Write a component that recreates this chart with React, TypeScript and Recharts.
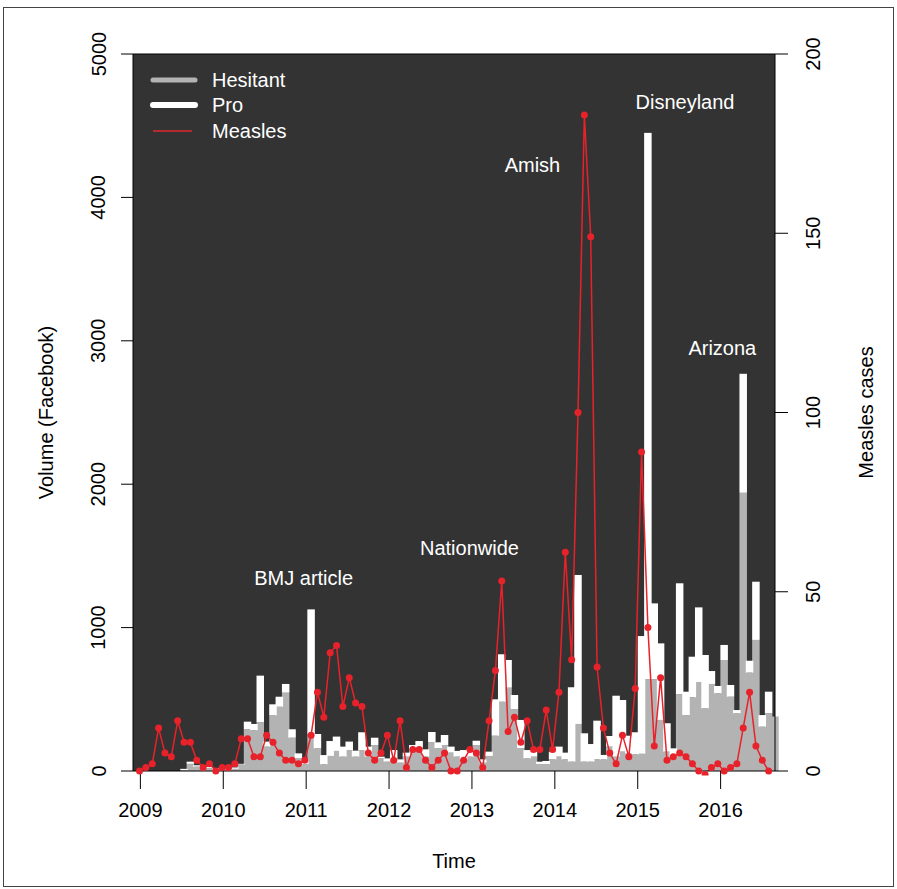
import React from "react";
import {
  ComposedChart,
  Bar,
  Line,
  XAxis,
  YAxis,
  CartesianGrid,
  ReferenceDot,
  ReferenceLine,
} from "recharts";

const FONT = '"Liberation Sans", Arial, Helvetica, sans-serif';
const BG = "#333333";
const GREY = "#b3b3b3";
const RED = "#e8222a";

// 4-week reporting periods, first one starting at the very beginning of 2009
const FIRST_PERIOD = 2008.99;
const PERIOD = 28 / 365.25;

const yearTicks = [2009, 2010, 2011, 2012, 2013, 2014, 2015, 2016];
const volumeTicks = [0, 1000, 2000, 3000, 4000, 5000];
const caseTicks = [0, 50, 100, 150, 200];

// measles cases per period
const measles = [
  0, 1, 2, 12, 5, 4, 14, 8, 8, 3,
  1, 2, 0, 1, 1, 2, 9, 9, 4, 4,
  10, 8, 5, 3, 3, 2, 3, 10, 22, 15,
  33, 35, 18, 26, 19, 18, 5, 3, 5, 10,
  3, 14, 1, 6, 6, 3, 1, 3, 5, 0,
  0, 3, 6, 5, 1, 14, 28, 53, 11, 15,
  8, 14, 6, 6, 17, 6, 22, 61, 31, 100,
  183, 149, 29, 12, 5, 2, 10, 4, 23, 89,
  40, 7, 26, 3, 4, 5, 4, 2, 0, -1,
  1, 2, 0, 1, 2, 12, 22, 7, 3, 0,
];

// facebook posts per period
const hesitant = [
  0, 0, 0, 0, 0, 0, 0, 5, 50, 30,
  20, 20, 10, 10, 10, 15, 45, 291, 284, 340,
  170, 388, 448, 546, 232, 88, 49, 258, 158, 47,
  105, 140, 100, 146, 100, 146, 100, 180, 88, 65,
  81, 58, 100, 151, 163, 100, 202, 160, 181, 128,
  100, 81, 100, 179, 58, 105, 246, 483, 581, 432,
  160, 88, 100, 49, 49, 81, 100, 81, 65, 328,
  65, 65, 81, 81, 170, 100, 135, 123, 116, 120,
  640, 640, 356, 135, 100, 535, 390, 514, 618, 437,
  607, 542, 774, 518, 402, 1940, 686, 914, 309, 402,
  380,
];

const pro = [
  0, 0, 0, 0, 0, 0, 0, 10, 15, 10,
  5, 10, 10, 5, 10, 10, 5, 53, 44, 325,
  35, 77, 70, 61, 59, 35, 32, 869, 100, 64,
  104, 100, 70, 59, 42, 124, 70, 52, 12, 23,
  65, 23, 28, 30, 46, 51, 70, 40, 70, 42,
  40, 65, 51, 32, 23, 30, 254, 331, 193, 98,
  196, 58, 35, 16, 21, 54, 70, 47, 519, 1039,
  198, 123, 270, 31, 74, 425, 360, 123, 154, 821,
  3810, 529, 534, 198, 58, 774, 163, 283, 523, 372,
  90, 51, 105, 82, 23, 830, 83, 406, 81, 151,
  0,
];

const annotations = [
  { text: "BMJ article", year: 2010.97, volume: 1346 },
  { text: "Nationwide", year: 2012.97, volume: 1555 },
  { text: "Amish", year: 2013.73, volume: 4226 },
  { text: "Disneyland", year: 2015.57, volume: 4666 },
  { text: "Arizona", year: 2016.02, volume: 2950 },
];

const data = hesitant.map((h, i) => ({
  t: FIRST_PERIOD + i * PERIOD,
  hesitant: h,
  pro: pro[i],
  measles: i < measles.length ? measles[i] : null,
}));

const WideBar = (props: any) => {
  const { x, y, width, height, fill } = props;
  if (!height || height <= 0) return <g />;
  return <rect x={x - 0.6} y={y} width={width + 1.2} height={height} fill={fill} />;
};

const YearTick = ({ x, y, payload }: any) => (
  <text x={x} y={y + 26} textAnchor="middle" fontSize={20} fill="#000" fontFamily={FONT}>
    {payload.value}
  </text>
);

const VolumeTick = ({ x, y, payload }: any) => {
  const bx = x - 13.5;
  return (
    <text
      x={bx}
      y={y}
      transform={`rotate(-90 ${bx} ${y})`}
      textAnchor="middle"
      fontSize={20}
      fill="#000"
      fontFamily={FONT}
    >
      {payload.value}
    </text>
  );
};

const CasesTick = ({ x, y, payload }: any) => {
  const bx = x + 30;
  return (
    <text
      x={bx}
      y={y}
      transform={`rotate(-90 ${bx} ${y})`}
      textAnchor="middle"
      fontSize={20}
      fill="#000"
      fontFamily={FONT}
    >
      {payload.value}
    </text>
  );
};

const Legend = () => (
  <svg
    width={200}
    height={100}
    style={{ position: "absolute", left: 140, top: 60 }}
    fontFamily={FONT}
  >
    <line x1={13} y1={20} x2={55} y2={20} stroke={GREY} strokeWidth={5} strokeLinecap="round" />
    <line x1={13} y1={45} x2={55} y2={45} stroke="#fff" strokeWidth={6} strokeLinecap="round" />
    <line x1={13} y1={71} x2={52} y2={71} stroke="#b52a2e" strokeWidth={1.8} />
    <text x={72} y={27} fontSize={20} fill="#fff">Hesitant</text>
    <text x={72} y={52} fontSize={20} fill="#fff">Pro</text>
    <text x={72} y={78} fontSize={20} fill="#fff">Measles</text>
  </svg>
);

export default function App() {
  return (
    <div
      style={{
        position: "absolute",
        left: 0,
        top: 0,
        width: 897,
        height: 889,
        background: "#fff",
        overflow: "hidden",
        fontFamily: FONT,
      }}
    >
      <div
        style={{
          position: "absolute",
          left: 3,
          top: 7,
          width: 891,
          height: 880,
          border: "1px solid #444",
          boxSizing: "border-box",
        }}
      />
      <ComposedChart
        width={897}
        height={889}
        data={data}
        margin={{ top: 54, right: 62, bottom: 78, left: 73 }}
        style={{ position: "absolute", left: 0, top: 0 }}
      >
        <CartesianGrid fill={BG} horizontal={false} vertical={false} />
        <XAxis
          dataKey="t"
          type="number"
          domain={[2008.911, 2016.645]}
          ticks={yearTicks}
          tick={<YearTick />}
          tickSize={18}
          height={40}
          stroke="#000"
          label={{
            content: () => (
              <text x={454} y={868} textAnchor="middle" fontSize={20} fill="#000" fontFamily={FONT}>
                Time
              </text>
            ),
          }}
        />
        <YAxis
          domain={[0, 5000]}
          ticks={volumeTicks}
          tick={<VolumeTick />}
          tickSize={12}
          width={60}
          stroke="#000"
          label={{
            content: () => (
              <text
                x={53}
                y={412.5}
                transform="rotate(-90 53 412.5)"
                textAnchor="middle"
                fontSize={20}
                fill="#000"
                fontFamily={FONT}
              >
                Volume (Facebook)
              </text>
            ),
          }}
        />
        <YAxis
          yAxisId="cases"
          orientation="right"
          domain={[0, 200]}
          allowDataOverflow
          ticks={caseTicks}
          tick={<CasesTick />}
          tickSize={13}
          width={60}
          stroke="#000"
          label={{
            content: () => (
              <text
                x={873}
                y={412.5}
                transform="rotate(-90 873 412.5)"
                textAnchor="middle"
                fontSize={20}
                fill="#000"
                fontFamily={FONT}
              >
                Measles cases
              </text>
            ),
          }}
        />
        <ReferenceLine y={5000} stroke="#000" />
        <Bar
          dataKey="hesitant"
          stackId="fb"
          fill={GREY}
          barSize={6.3}
          shape={<WideBar />}
          isAnimationActive={false}
        />
        <Bar
          dataKey="pro"
          stackId="fb"
          fill="#ffffff"
          barSize={6.3}
          shape={<WideBar />}
          isAnimationActive={false}
        />
        <Line
          yAxisId="cases"
          dataKey="measles"
          stroke={RED}
          strokeWidth={1.5}
          dot={{ r: 3.5, fill: RED, stroke: "none", clipDot: false }}
          connectNulls={false}
          isAnimationActive={false}
        />
        {annotations.map((a) => (
          <ReferenceDot
            key={a.text}
            x={a.year}
            y={a.volume}
            r={0}
            stroke="none"
            fill="none"
            label={{
              content: ({ viewBox }: any) => (
                <text
                  x={viewBox.x + (viewBox.width || 0) / 2}
                  y={viewBox.y + (viewBox.height || 0) / 2 + 7}
                  textAnchor="middle"
                  fontSize={20}
                  fill="#fff"
                  fontFamily={FONT}
                >
                  {a.text}
                </text>
              ),
            }}
          />
        ))}
      </ComposedChart>
      <Legend />
    </div>
  );
}
